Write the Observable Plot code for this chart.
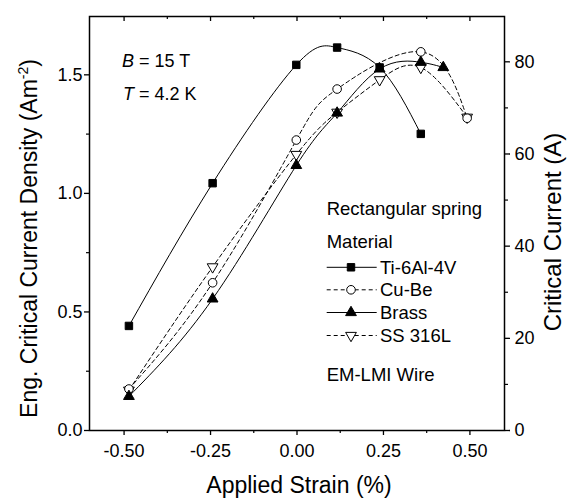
<!DOCTYPE html>
<html><head><meta charset="utf-8">
<script src="https://cdn.jsdelivr.net/npm/d3@7"></script>
<script src="https://cdn.jsdelivr.net/npm/@observablehq/plot@0.6"></script>
<style>
html,body{margin:0;padding:0;background:#fff;}
#chart{width:567px;height:498px;}
</style></head><body><div id="chart"></div>
<script>
// ---- data ----
const seriesNames = ["Ti-6Al-4V", "Cu-Be", "Brass", "SS 316L"];
const tiStrain    = [-0.486, -0.244, -0.002, 0.116, 0.239, 0.358];
const tiJc        = [0.441, 1.043, 1.542, 1.615, 1.531, 1.251];
const cuBeStrain  = [-0.486, -0.244, -0.002, 0.116, 0.358, 0.492];
const cuBeJc      = [0.175, 0.623, 1.225, 1.440, 1.597, 1.317];
const brassStrain = [-0.486, -0.244, -0.002, 0.116, 0.239, 0.358, 0.423];
const brassJc     = [0.144, 0.555, 1.118, 1.339, 1.525, 1.553, 1.531];
const ssStrain    = [-0.486, -0.244, -0.002, 0.116, 0.239, 0.358, 0.492];
const ssJc        = [0.170, 0.690, 1.164, 1.342, 1.479, 1.531, 1.321];

const xTicks = [-0.5, -0.25, 0, 0.25, 0.5];
const xMinorTicks = [-0.375, -0.125, 0.125, 0.375];
const yTicks = [0, 0.5, 1.0, 1.5];
const yMinorTicks = [0.25, 0.75, 1.25];
const ampTicks = [0, 20, 40, 60, 80];
const ampMinorTicks = [10, 30, 50, 70];
const ampPerJc = 51.45; // right axis (A) per left axis unit

const xTitle = "Applied Strain (%)";
const yTitle = "Eng. Critical Current Density (Am";
const yTitleSup = "-2";
const y2Title = "Critical Current (A)";
const annotB = " = 15 T";
const annotT = " = 4.2 K";
const legendHeader1 = "Rectangular spring";
const legendHeader2 = "Material";
const legendFooter = "EM-LMI Wire";

// ---- styling ----
const font = "Liberation Sans, Arial, Helvetica, sans-serif";
const triangleDown = {
  draw(context, size) {
    const y = -Math.sqrt(size / (Math.sqrt(3) * 3));
    context.moveTo(0, -y * 2);
    context.lineTo(-Math.sqrt(3) * y, y);
    context.lineTo(Math.sqrt(3) * y, y);
    context.closePath();
  }
};
const seriesData = [
  {name: seriesNames[0], xs: tiStrain, ys: tiJc, symbol: "square", fill: "black", dash: null, r: 4.2},
  {name: seriesNames[1], xs: cuBeStrain, ys: cuBeJc, symbol: "circle", fill: "white", dash: "4,3", r: 4.3},
  {name: seriesNames[2], xs: brassStrain, ys: brassJc, symbol: "triangle", fill: "black", dash: null, r: 4.0},
  {name: seriesNames[3], xs: ssStrain, ys: ssJc, symbol: triangleDown, fill: "white", dash: "4,3", r: 4.0}
];
const rows = s => s.xs.map((x, i) => ({series: s.name, strain: x, jc: s.ys[i]}));

const W = 567, H = 498, mL = 89, mR = 63, mT = 16, mB = 68;
const innerH = H - mT - mB;

const marks = [];
for (const s of seriesData) {
  marks.push(Plot.line(rows(s), {x: "strain", y: "jc", curve: "natural", stroke: "black", strokeWidth: 1, strokeDasharray: s.dash}));
}
// draw order of markers: SS, Cu-Be, Brass, Ti
for (const s of [seriesData[3], seriesData[1], seriesData[2], seriesData[0]]) {
  marks.push(Plot.dot(rows(s), {x: "strain", y: "jc", symbol: s.symbol, r: s.r, fill: s.fill, stroke: "black", strokeWidth: 1}));
}
marks.push(
  Plot.frame({stroke: "black", strokeWidth: 1.5}),
  Plot.axisX(xTicks, {anchor: "bottom", tickSize: 5, tickPadding: 9, strokeWidth: 1.3, fontSize: 18, tickFormat: d => d.toFixed(2), label: null}),
  Plot.axisX(xMinorTicks, {anchor: "bottom", tickSize: 3, strokeWidth: 1.2, fill: "none", label: null}),
  Plot.tickX(xTicks, {x: d => d, insetBottom: innerH - 5, stroke: "black", strokeWidth: 1.3}),
  Plot.tickX(xMinorTicks, {x: d => d, insetBottom: innerH - 3, stroke: "black", strokeWidth: 1.2}),
  Plot.axisY(yTicks, {anchor: "left", tickSize: 5, tickPadding: 2, strokeWidth: 1.3, fontSize: 18, tickFormat: d => d.toFixed(1), label: null}),
  Plot.axisY(yMinorTicks, {anchor: "left", tickSize: 3, strokeWidth: 1.2, fill: "none", label: null}),
  Plot.axisY(ampTicks.map(a => a / ampPerJc), {anchor: "right", tickSize: 5, tickPadding: 5, strokeWidth: 1.3, fontSize: 18, tickFormat: d => String(Math.round(d * ampPerJc)), label: null}),
  Plot.axisY(ampMinorTicks.map(a => a / ampPerJc), {anchor: "right", tickSize: 3, strokeWidth: 1.2, fill: "none", label: null})
);

const svg = Plot.plot({
  width: W, height: H,
  marginLeft: mL, marginRight: mR, marginTop: mT, marginBottom: mB,
  x: {domain: [-0.6, 0.6]},
  y: {domain: [0, 1.746]},
  style: {fontFamily: font, fontSize: "18px", background: "white", color: "black"},
  marks
});

const g = d3.select(svg);
const txt = (x, y, size) => g.append("text").attr("x", x).attr("y", y)
  .attr("text-anchor", "start")
  .attr("font-family", font).attr("font-size", size).attr("fill", "black");

// axis titles
txt(299, 493, 23).attr("text-anchor", "middle").text(xTitle);
const lt = g.append("text").attr("transform", "translate(37,238.5) rotate(-90)")
  .attr("text-anchor", "middle").attr("font-family", font).attr("font-size", 23).attr("fill", "black");
lt.append("tspan").text(yTitle);
lt.append("tspan").attr("dy", -9).attr("font-size", 14).text(yTitleSup);
lt.append("tspan").attr("dy", 9).text(")");
g.append("text").attr("transform", "translate(561,232) rotate(-90)")
  .attr("text-anchor", "middle").attr("font-family", font).attr("font-size", 24).attr("fill", "black")
  .text(y2Title);

// annotations
const a1 = txt(122, 66.7, 18);
a1.append("tspan").attr("font-style", "italic").text("B");
a1.append("tspan").text(annotB);
const a2 = txt(123, 100, 18);
a2.append("tspan").attr("font-style", "italic").text("T");
a2.append("tspan").text(annotT);

// legend
txt(326.7, 215, 18.5).text(legendHeader1);
txt(326.7, 248.3, 18.5).text(legendHeader2);
const rowY = [267.3, 289.8, 312.5, 335.5];
seriesData.forEach((s, i) => {
  const y = rowY[i];
  g.append("line").attr("x1", 326.7).attr("x2", 376.7).attr("y1", y).attr("y2", y)
    .attr("stroke", "black").attr("stroke-width", 1).attr("stroke-dasharray", s.dash);
  const sym = typeof s.symbol === "string"
    ? {square: d3.symbolSquare, circle: d3.symbolCircle, triangle: d3.symbolTriangle}[s.symbol]
    : s.symbol;
  g.append("path").attr("transform", `translate(351,${y})`)
    .attr("d", d3.symbol(sym, Math.PI * s.r * s.r)())
    .attr("fill", s.fill).attr("stroke", "black").attr("stroke-width", 1);
  txt(380, y + 6.3, 18.5).text(s.name);
});
txt(326.7, 380.7, 18.5).text(legendFooter);

document.getElementById("chart").appendChild(svg);
</script></body></html>
